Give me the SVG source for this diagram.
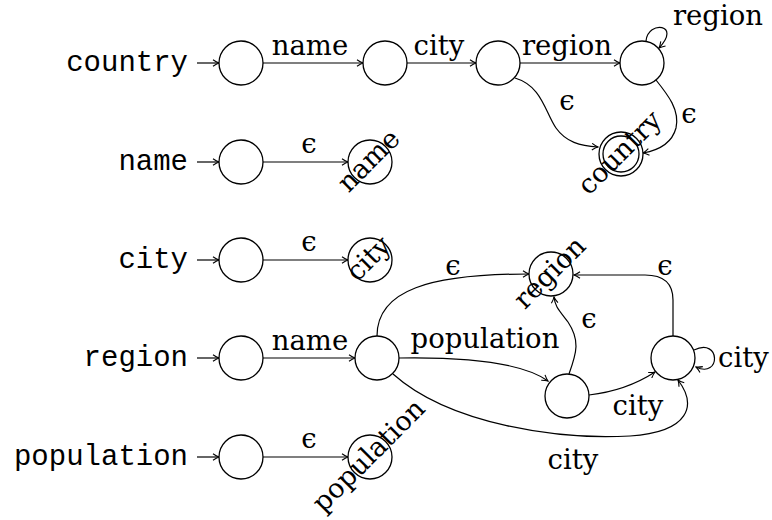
<svg xmlns="http://www.w3.org/2000/svg" width="772" height="520" viewBox="0 0 772 520">
  <style>
    .st { fill: #fff; stroke: #000; stroke-width: 1.3; }
    .ed { fill: none; stroke: #000; stroke-width: 1.2; marker-end: url(#arr); }
    .lbl { font-family: "DejaVu Serif", serif; font-size: 27.5px; fill: #000; }
    .nm { font-family: "DejaVu Serif", serif; font-size: 27px; fill: #000; text-anchor: middle; }
    .in { font-family: "Liberation Mono", "DejaVu Sans Mono", monospace; font-size: 29px; fill: #000; text-anchor: end; }
    .mid { text-anchor: middle; }
  </style>
  <defs>
    <marker id="arr" viewBox="-7 -4 8 8" refX="0" refY="0" markerWidth="8" markerHeight="8" markerUnits="userSpaceOnUse" orient="auto">
      <path d="M-6,-3.3 Q-2.5,-0.8 0,0 Q-2.5,0.8 -6,3.3" fill="none" stroke="#000" stroke-width="1.1"/>
    </marker>
  </defs>

  <rect width="772" height="520" fill="#fff"/>

  <!-- connectors -->
  <g id="edges">
    <!-- start arrows -->
    <line class="ed" x1="197" y1="63" x2="219" y2="63"/>
    <line class="ed" x1="197" y1="162" x2="219" y2="162"/>
    <line class="ed" x1="197" y1="260" x2="219" y2="260"/>
    <line class="ed" x1="197" y1="358" x2="219" y2="358"/>
    <line class="ed" x1="197" y1="457" x2="219" y2="457"/>

    <!-- country automaton -->
    <line class="ed" x1="263" y1="63" x2="363" y2="63"/>
    <text class="lbl mid" x="310" y="55">name</text>
    <line class="ed" x1="407" y1="63" x2="476" y2="63"/>
    <text class="lbl mid" x="439" y="55">city</text>
    <line class="ed" x1="520" y1="63" x2="620" y2="63"/>
    <text class="lbl mid" x="567" y="55">region</text>
    <path class="ed" d="M646,41 C648,20 682,24 659,48"/>
    <text class="lbl mid" x="718" y="25">region</text>
    <path class="ed" d="M515,78 C542,86 545,112 556,128 C566,142 580,146 598,147"/>
    <text class="lbl mid" x="567" y="110">ϵ</text>
    <path class="ed" d="M656,80 C668,95 680,110 676,128 C672,143 660,150 643,153"/>
    <text class="lbl mid" x="689" y="123">ϵ</text>

    <!-- name automaton -->
    <line class="ed" x1="263" y1="162" x2="348" y2="162"/>
    <text class="lbl mid" x="309" y="153">ϵ</text>

    <!-- city automaton -->
    <line class="ed" x1="263" y1="260" x2="348" y2="260"/>
    <text class="lbl mid" x="309" y="251">ϵ</text>

    <!-- region automaton -->
    <line class="ed" x1="263" y1="358" x2="355" y2="358"/>
    <text class="lbl mid" x="310" y="350">name</text>
    <path class="ed" d="M377,336 C377,290 430,274 529,274"/>
    <text class="lbl mid" x="453" y="275">ϵ</text>
    <path class="ed" d="M399,358 C460,357 520,361 548,381"/>
    <text class="lbl mid" x="485" y="348">population</text>
    <path class="ed" d="M393,374 C450,425 560,440 630,436 C690,432 697,405 678,380"/>
    <text class="lbl mid" x="573" y="469">city</text>
    <path class="ed" d="M589,395 C615,392 635,385 655,372"/>
    <text class="lbl mid" x="638" y="415">city</text>
    <path class="ed" d="M569,374 C577,352 580,340 568,322 C558,309 555,306 554,297"/>
    <text class="lbl mid" x="589" y="328">ϵ</text>
    <path class="ed" d="M673,336 L673,300 C673,285 665,275 645,275 L574,275"/>
    <text class="lbl mid" x="665" y="275">ϵ</text>
    <path class="ed" d="M694,350 C721,337 721,379 696,367"/>
    <text class="lbl" x="718" y="367">city</text>

    <!-- population automaton -->
    <line class="ed" x1="263" y1="457" x2="348" y2="457"/>
    <text class="lbl mid" x="309" y="448">ϵ</text>
  </g>

  <!-- country -->
  <g id="country-start">
    <text class="in" x="188" y="71">country</text>
    <circle class="st" cx="241" cy="63" r="22"/>
  </g>
  <g id="country-s1"><circle class="st" cx="385" cy="63" r="22"/></g>
  <g id="country-s2"><circle class="st" cx="498" cy="63" r="22"/></g>
  <g id="country-s3"><circle class="st" cx="642" cy="63" r="22"/></g>
  <g id="country-final">
    <circle class="st" cx="621" cy="154" r="22"/>
    <circle class="st" cx="621" cy="154" r="18" fill="none"/>
    <text class="nm" transform="translate(621,154) rotate(-45)" x="0" y="7">country</text>
  </g>

  <!-- name -->
  <g id="name-start">
    <text class="in" x="188" y="170">name</text>
    <circle class="st" cx="241" cy="162" r="22"/>
  </g>
  <g id="name-final">
    <circle class="st" cx="370" cy="162" r="22"/>
    <text class="nm" transform="translate(370,162) rotate(-45)" x="0" y="7">name</text>
  </g>

  <!-- city -->
  <g id="city-start">
    <text class="in" x="188" y="268">city</text>
    <circle class="st" cx="241" cy="260" r="22"/>
  </g>
  <g id="city-final">
    <circle class="st" cx="370" cy="260" r="22"/>
    <text class="nm" transform="translate(370,260) rotate(-45)" x="0" y="7">city</text>
  </g>

  <!-- region -->
  <g id="region-start">
    <text class="in" x="188" y="366">region</text>
    <circle class="st" cx="241" cy="358" r="22"/>
  </g>
  <g id="region-s1"><circle class="st" cx="377" cy="358" r="22"/></g>
  <g id="region-s2"><circle class="st" cx="567" cy="396" r="22"/></g>
  <g id="region-s3"><circle class="st" cx="673" cy="358" r="22"/></g>
  <g id="region-final">
    <circle class="st" cx="551" cy="274" r="22"/>
    <text class="nm" transform="translate(551,274) rotate(-45)" x="0" y="7">region</text>
  </g>

  <!-- population -->
  <g id="population-start">
    <text class="in" x="188" y="465">population</text>
    <circle class="st" cx="241" cy="457" r="22"/>
  </g>
  <g id="population-final">
    <circle class="st" cx="370" cy="457" r="22"/>
    <text class="nm" transform="translate(370,457) rotate(-45)" x="0" y="7">population</text>
  </g>
</svg>
